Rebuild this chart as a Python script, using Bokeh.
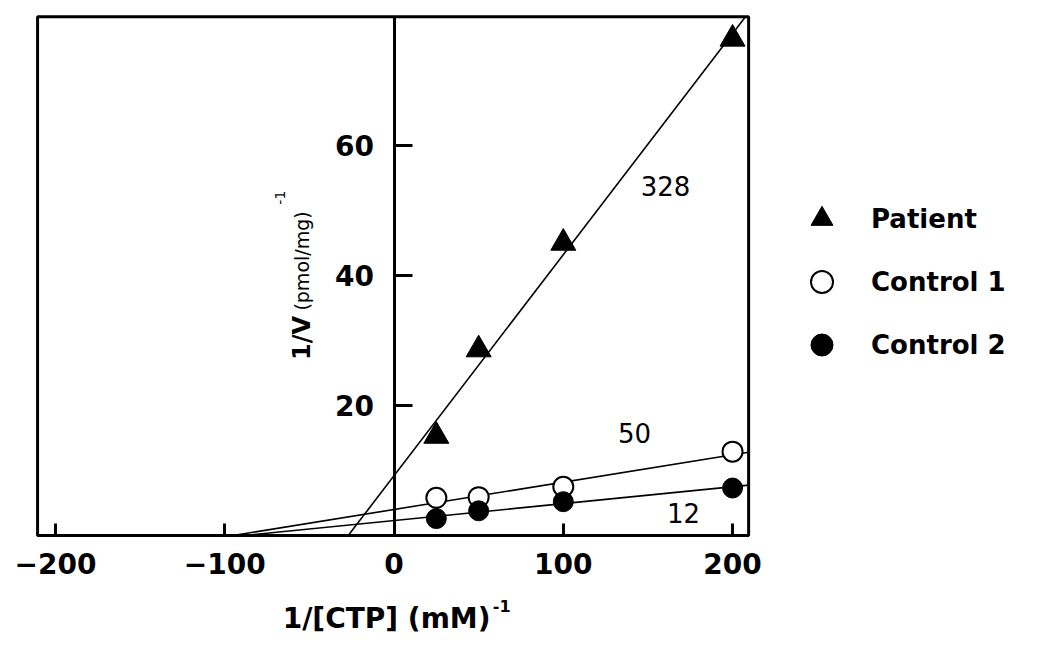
import math
from bokeh.plotting import figure
from bokeh.models import FixedTicker, Label, Legend, LegendItem, Range1d, LinearAxis
from bokeh.embed import file_html
from bokeh.resources import INLINE

# ---- data ----
ctp_inv = [25, 50, 100, 200]                 # 1/[CTP] (mM)^-1
patient = [15.3, 28.6, 45.0, 76.4]           # 1/V
control1 = [5.8, 5.9, 7.5, 12.9]
control2 = [2.6, 3.8, 5.2, 7.3]
series_names = ["Patient", "Control 1", "Control 2"]
fit_intercepts = [9.2, 4.0, 2.3]             # Lineweaver-Burk fits (1/Vmax)
fit_slopes = [0.34, 0.042, 0.026]            # (Km/Vmax)
slope_labels = ["328", "50", "12"]
x_ticks = [-200, -100, 0, 100, 200]
y_ticks = [20, 40, 60]
X_MIN, X_MAX = -210.6, 209.5                 # plot box
Y_MIN, Y_MAX = 0.0, 79.8

FONT = "DejaVu Sans"

# the frame spans the whole canvas so that titles and legend outside the box are drawn
p = figure(width=1034, height=641,
           min_border_left=0, min_border_right=0,
           min_border_top=0, min_border_bottom=0,
           x_range=Range1d(-232.5, 378.4), y_range=Range1d(-16.31, 82.31),
           x_axis_location=None, y_axis_location=None,
           output_backend="svg", toolbar_location=None,
           background_fill_color="white", border_fill_color="white")
p.grid.visible = False
p.outline_line_color = None

# plot box
p.quad(left=[X_MIN], right=[X_MAX], bottom=[Y_MIN], top=[Y_MAX],
       fill_color=None, line_color="black", line_width=3)

# x axis (at y = 0, ticks pointing inward)
xa = LinearAxis(fixed_location=0, bounds=(X_MIN, X_MAX))
xa.ticker = FixedTicker(ticks=x_ticks)
xa.axis_line_width = 3
xa.major_tick_line_width = 3
xa.major_tick_in = 12
xa.major_tick_out = 0
xa.minor_tick_line_color = None
xa.major_label_standoff = 18
xa.major_label_text_font = FONT
xa.major_label_text_font_style = "bold"
xa.major_label_text_font_size = "28px"
xa.major_label_text_color = "black"
p.add_layout(xa, "below")

# y axis drawn at x = 0
ya = LinearAxis(fixed_location=0, bounds=(Y_MIN, Y_MAX))
ya.ticker = FixedTicker(ticks=y_ticks)
ya.axis_line_width = 3
ya.major_tick_line_width = 3
ya.major_tick_in = 18
ya.major_tick_out = 0
ya.minor_tick_line_color = None
ya.major_label_standoff = 20
ya.major_label_text_font = FONT
ya.major_label_text_font_style = "bold"
ya.major_label_text_font_size = "28px"
ya.major_label_text_color = "black"
p.add_layout(ya, "left")

# fitted lines from x-intercept to the edge of the box
for b, m in zip(fit_intercepts, fit_slopes):
    x0 = -b / m
    x1 = min(X_MAX, (Y_MAX - b) / m)
    p.line([x0, x1], [0, b + m * x1], line_color="black", line_width=1.6)

r_pat = p.scatter(ctp_inv, patient, marker="triangle", size=25,
                  fill_color="black", line_color="black")
r_c1 = p.scatter(ctp_inv, control1, marker="circle", size=20,
                 fill_color="white", line_color="black", line_width=2)
r_c2 = p.scatter(ctp_inv, control2, marker="circle", size=20,
                 fill_color="black", line_color="black")

legend = Legend(items=[LegendItem(label=n, renderers=[r])
                       for n, r in zip(series_names, [r_pat, r_c1, r_c2])],
                location=(794, 269), orientation="vertical",
                glyph_width=55, glyph_height=55, label_height=55,
                spacing=8, label_standoff=22, padding=0, margin=0,
                border_line_color=None, background_fill_alpha=0,
                label_text_font=FONT, label_text_font_style="bold",
                label_text_font_size="26px", label_text_color="black")
p.add_layout(legend)

# slope annotations
for txt, (lx, ly) in zip(slope_labels, [(160.4, 53.7), (142.1, 15.7), (171.0, 3.5)]):
    p.add_layout(Label(x=lx, y=ly, text=txt, text_align="center",
                       text_baseline="middle", text_font=FONT,
                       text_font_size="26px", text_color="black"))

# x axis title with superscript
p.add_layout(Label(x=57.0, y=-12.8, text="1/[CTP] (mM)", text_align="right",
                   text_baseline="middle", text_font=FONT,
                   text_font_style="bold", text_font_size="28px",
                   text_color="black"))
p.add_layout(Label(x=58.4, y=-10.9, text="-1", text_align="left",
                   text_baseline="middle", text_font=FONT,
                   text_font_style="bold", text_font_size="16px",
                   text_color="black"))

# y axis title (rotated) with superscript
p.add_layout(Label(x=-54.1, y=27.0, text="1/V", angle=math.pi / 2,
                   text_align="left", text_baseline="alphabetic",
                   text_font=FONT, text_font_style="bold", text_font_size="24px",
                   text_color="black"))
p.add_layout(Label(x=-54.1, y=34.6, text="(pmol/mg)", angle=math.pi / 2,
                   text_align="left", text_baseline="alphabetic",
                   text_font=FONT, text_font_size="19px", text_color="black"))
p.add_layout(Label(x=-67.1, y=50.9, text="-1", angle=math.pi / 2,
                   text_align="left", text_baseline="alphabetic",
                   text_font=FONT, text_font_size="14px", text_color="black"))

open("out.html", "w").write(file_html(p, INLINE))
